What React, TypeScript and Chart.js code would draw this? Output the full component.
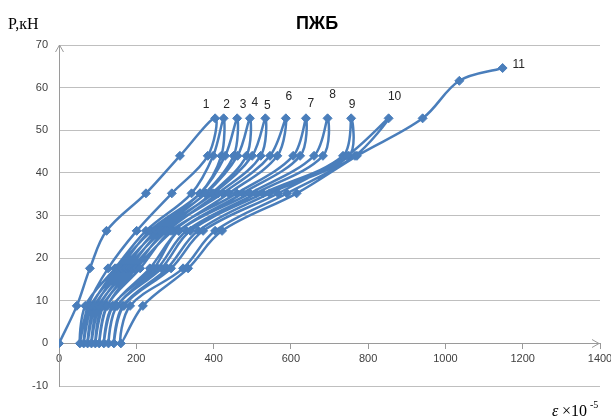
import { useEffect, useRef } from "react";
import { Chart, registerables } from "chart.js";

Chart.register(...registerables);

// Load steps, kN: one loading/unloading cycle and the final loading to failure
const LOAD_CYCLE = [0, 8.8, 17.6, 26.4, 35.2, 44, 52.8, 44, 35.2, 26.4, 17.6, 8.8];
const LOAD_FINAL = [0, 8.8, 17.6, 26.4, 35.2, 44, 52.8, 61.6, 64.6];

// Strain, ×10^-5, for each cycle (loading up to 52.8 kN, then unloading)
const strainCycle1 = [0, 46, 80, 123, 225, 313, 404, 385, 292, 201, 127, 75];
const strainCycle2 = [54, 68, 145, 225, 343, 399, 426, 420, 365, 240, 150, 85];
const strainCycle3 = [64, 82, 158, 235, 365, 430, 461, 452, 378, 255, 162, 95];
const strainCycle4 = [74, 92, 170, 250, 380, 462, 494, 485, 395, 268, 175, 105];
const strainCycle5 = [84, 102, 182, 262, 400, 500, 534, 522, 412, 280, 188, 115];
const strainCycle6 = [94, 112, 195, 275, 424, 546, 587, 565, 440, 295, 200, 125];
const strainCycle7 = [104, 124, 210, 290, 460, 606, 639, 624, 475, 310, 235, 140];
const strainCycle8 = [116, 138, 245, 310, 494, 660, 695, 683, 510, 330, 255, 150];
const strainCycle9 = [128, 150, 265, 340, 528, 735, 756, 750, 545, 360, 280, 165];
const strainCycle10 = [142, 168, 290, 373, 567, 745, 853, 766, 590, 404, 321, 184];
const strainCycle11 = [160, 217, 334, 422, 615, 771, 941, 1036, 1148];

const CYCLE_NAMES = ["1", "2", "3", "4", "5", "6", "7", "8", "9", "10", "11"];

// Label offsets from the peak marker (px)
const LABEL_OFFSETS: [number, number][] = [
  [-9, -14], [3, -14], [6, -14], [5, -16], [2, -13], [3, -22],
  [5, -15], [5, -24], [1, -14], [6, -22], [16, -3],
];

const TITLE = "ПЖБ";
const Y_TITLE = "P,кН";

const BLUE = "#4A7EBB";
const GRID = "#BFBFBF";
const AXIS = "#9A9A9A";

export default function App() {
  const ref = useRef<HTMLCanvasElement | null>(null);

  useEffect(() => {
    document.body.style.margin = "0";
    const canvas = ref.current;
    if (!canvas) return;

    const cycles = [
      strainCycle1, strainCycle2, strainCycle3, strainCycle4, strainCycle5,
      strainCycle6, strainCycle7, strainCycle8, strainCycle9, strainCycle10,
    ];
    const points: { x: number; y: number }[] = [];
    const peaks: number[] = [];
    cycles.forEach((s) => {
      const base = points.length;
      s.forEach((x, i) => points.push({ x, y: LOAD_CYCLE[i] }));
      peaks.push(base + 6);
    });
    strainCycle11.forEach((x, i) => points.push({ x, y: LOAD_FINAL[i] }));
    peaks.push(points.length - 1);

    const decor = {
      id: "decor",
      afterDraw(chart: any) {
        const { ctx, chartArea, scales } = chart;
        const ys = scales.y;
        ctx.save();
        // axis arrows
        ctx.strokeStyle = AXIS;
        ctx.lineWidth = 1;
        const ax = Math.round(chartArea.left) + 0.5;
        const top = chartArea.top;
        ctx.beginPath();
        ctx.moveTo(ax - 4, top + 7);
        ctx.lineTo(ax, top);
        ctx.lineTo(ax + 4, top + 7);
        ctx.stroke();
        const y0 = Math.round(ys.getPixelForValue(0)) + 0.5;
        const rx = chartArea.right - 1;
        ctx.beginPath();
        ctx.moveTo(rx - 7, y0 - 4);
        ctx.lineTo(rx, y0);
        ctx.lineTo(rx - 7, y0 + 4);
        ctx.stroke();

        // cycle numbers at peak points
        ctx.fillStyle = "#262626";
        ctx.font = "12px 'Liberation Sans', sans-serif";
        ctx.textAlign = "center";
        ctx.textBaseline = "middle";
        const meta = chart.getDatasetMeta(0);
        peaks.forEach((idx, k) => {
          const el = meta.data[idx];
          const [dx, dy] = LABEL_OFFSETS[k];
          ctx.fillText(CYCLE_NAMES[k], el.x + dx, el.y + dy);
        });

        // title
        ctx.fillStyle = "#000";
        ctx.font = "bold 18px 'Liberation Sans', sans-serif";
        ctx.textAlign = "center";
        ctx.textBaseline = "alphabetic";
        ctx.fillText(TITLE, 317, 29);

        // axis titles
        ctx.font = "16px 'Liberation Serif', serif";
        ctx.textAlign = "left";
        ctx.fillText(Y_TITLE, 8, 29);

        ctx.font = "italic 16px 'Liberation Serif', serif";
        ctx.fillText("ε", 552, 416);
        ctx.font = "16px 'Liberation Serif', serif";
        ctx.fillText("×10", 562, 416);
        ctx.font = "10px 'Liberation Serif', serif";
        ctx.fillText("-5", 590, 408);
        ctx.restore();
      },
    };

    const chart = new Chart(canvas, {
      type: "scatter",
      data: {
        datasets: [
          {
            data: points,
            showLine: true,
            borderColor: BLUE,
            backgroundColor: BLUE,
            borderWidth: 2.5,
            tension: 0.35,
            pointStyle: "rectRot",
            pointRadius: 4.5,
            pointBorderWidth: 1,
            pointBorderColor: BLUE,
            pointBackgroundColor: BLUE,
          },
        ],
      },
      options: {
        animation: false,
        responsive: false,
        devicePixelRatio: 1,
        layout: { padding: { left: 0, top: 45, right: 11, bottom: 34 } },
        plugins: {
          legend: { display: false },
          title: { display: false },
          tooltip: { enabled: false },
        },
        scales: {
          x: {
            type: "linear",
            position: { y: 0 } as any,
            min: 0,
            max: 1400,
            ticks: {
              stepSize: 200,
              padding: 4,
              color: "#404040",
              font: { family: "'Liberation Sans', sans-serif", size: 11 },
              maxRotation: 0,
              callback: (v: any) => String(v),
            },
            grid: {
              display: true,
              drawOnChartArea: false,
              drawTicks: true,
              tickLength: 5,
              color: AXIS,
            },
            border: { display: true, color: AXIS },
            afterFit: (s: any) => {
              s.paddingLeft = 0;
              s.paddingRight = 0;
            },
          },
          y: {
            type: "linear",
            position: "left",
            min: -10,
            max: 70,
            ticks: {
              stepSize: 10,
              padding: 11,
              color: "#404040",
              font: { family: "'Liberation Sans', sans-serif", size: 11 },
              callback: (v: any) => String(v),
            },
            grid: { color: GRID, drawTicks: false },
            border: { display: true, color: AXIS },
            afterFit: (s: any) => {
              s.width = 59;
            },
          },
        },
      },
      plugins: [decor],
    });

    return () => chart.destroy();
  }, []);

  return <canvas ref={ref} width={611} height={420} style={{ display: "block" }} />;
}
